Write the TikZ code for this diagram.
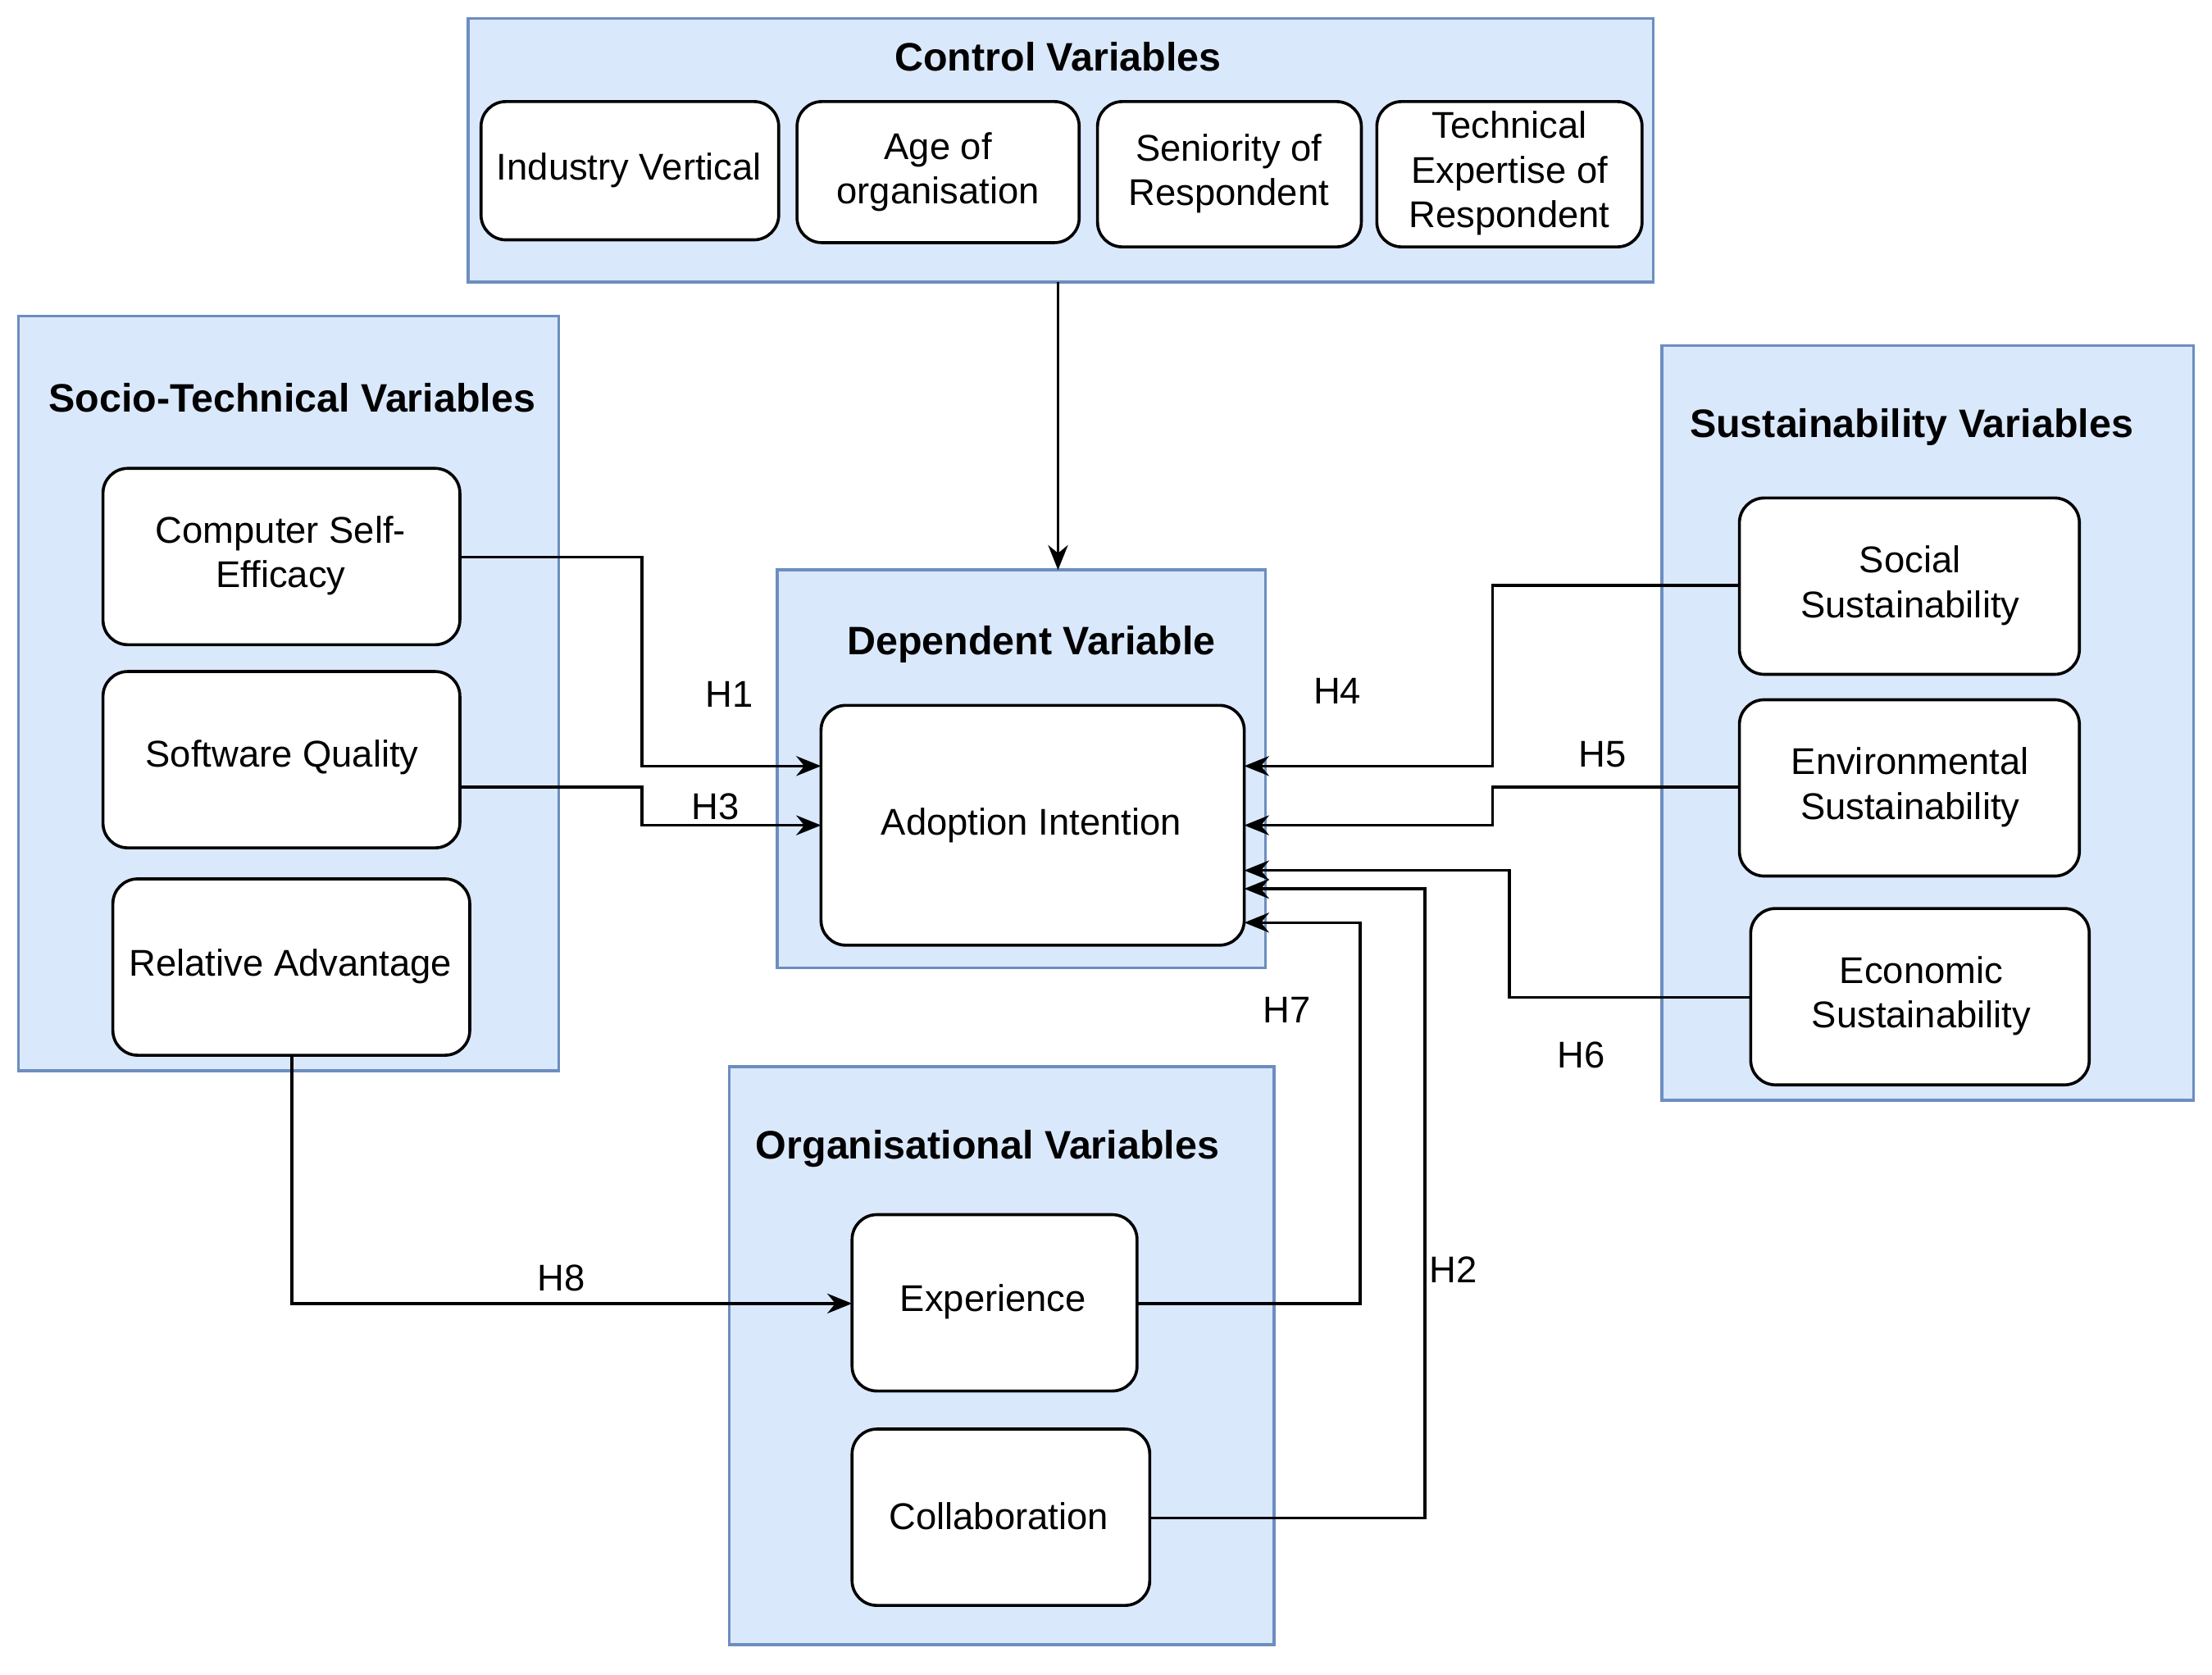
\documentclass[tikz,border=0pt]{standalone}
\usepackage{fontspec}
\setmainfont{Liberation Sans}
\usetikzlibrary{arrows.meta}
\definecolor{grpfill}{RGB}{218,232,252}
\definecolor{grpdraw}{RGB}{108,142,191}
\begin{document}
\begin{tikzpicture}[x=0.01cm,y=-0.01cm,
  grp/.style={draw=grpdraw,fill=grpfill,line width=0.6pt},
  box/.style={draw=black,fill=white,rounded corners=5pt,line width=0.6pt,align=center,font=\fontsize{7.5}{9}\selectfont},
  ttl/.style={font=\bfseries\fontsize{8}{10}\selectfont},
  lbl/.style={font=\fontsize{7.5}{9}\selectfont},
  arr/.style={-{Stealth[length=5pt,width=4pt]},line width=0.6pt}]
\useasboundingbox (0,0) rectangle (1568,1187);
% groups
\draw[grp] (332,13) rectangle (1172,200);
\node[ttl] (tc) at (750,40) {Control Variables};
\draw[grp] (13,224) rectangle (396,759);
\node[ttl] (ts) at (207,282) {Socio-Technical Variables};
\draw[grp] (551,404) rectangle (897,686);
\coordinate (deptop) at (750,404);
\node[ttl] (td) at (731,457) {Dependent Variable};
\draw[grp] (1178,245) rectangle (1555,780);
\node[ttl] (tsu) at (1355,303) {Sustainability Variables};
\draw[grp] (517,756) rectangle (903,1166);
\node[ttl] (to) at (700,814) {Organisational Variables};
% boxes
\path[box] (341,72) rectangle (552,170); \node[box,draw=none,fill=none] (iv) at (446,121) {Industry Vertical};
\path[box] (565,72) rectangle (765,172); \node[box,draw=none,fill=none] (ag) at (665,122) {Age of\\organisation};
\path[box] (778,72) rectangle (965,175); \node[box,draw=none,fill=none] (se) at (871,123) {Seniority of\\Respondent};
\path[box] (976,72) rectangle (1164,175); \node[box,draw=none,fill=none] (te) at (1070,123) {Technical\\Expertise of\\Respondent};
\coordinate (ctrlbot) at (750,200);
\path[box] (73,332) rectangle (326,457); \node[box,draw=none,fill=none] (cse) at (199,394) {Computer Self-\\Efficacy};
\path[box] (73,476) rectangle (326,601); \node[box,draw=none,fill=none] (sq) at (200,537) {Software Quality};
\path[box] (80,623) rectangle (333,748); \node[box,draw=none,fill=none] (ra) at (206,685) {Relative Advantage};
\path[box] (582,500) rectangle (882,670); \node[box,draw=none,fill=none] (ai) at (731,585) {Adoption Intention};
\path[box] (1233,353) rectangle (1474,478); \node[box,draw=none,fill=none] (soc) at (1354,415) {Social\\Sustainability};
\path[box] (1233,496) rectangle (1474,621); \node[box,draw=none,fill=none] (env) at (1354,558) {Environmental\\Sustainability};
\path[box] (1241,644) rectangle (1481,769); \node[box,draw=none,fill=none] (eco) at (1362,706) {Economic\\Sustainability};
\path[box] (604,861) rectangle (806,986); \node[box,draw=none,fill=none] (exp) at (704,923) {Experience};
\path[box] (604,1013) rectangle (815,1138); \node[box,draw=none,fill=none] (col) at (708,1075) {Collaboration};
% arrows
\draw[arr] (ctrlbot) -- (deptop);
\draw[arr] (326,395) -- (455,395) -- (455,543) -- (582,543);
\draw[arr] (326,558) -- (455,558) -- (455,585) -- (582,585);
\draw[arr] (1233,415) -- (1058,415) -- (1058,543) -- (882,543);
\draw[arr] (1233,558) -- (1058,558) -- (1058,585) -- (882,585);
\draw[arr] (1241,707) -- (1070,707) -- (1070,617) -- (882,617);
\draw[arr] (806,924) -- (964,924) -- (964,654) -- (882,654);
\draw[arr] (815,1076) -- (1010,1076) -- (1010,630) -- (882,630);
\draw[arr] (207,748) -- (207,924) -- (604,924);
% labels
\node[lbl] (h1) at (517,492) {H1};
\node[lbl] (h3) at (507,572) {H3};
\node[lbl] (h4) at (948,490) {H4};
\node[lbl] (h5) at (1136,535) {H5};
\node[lbl] (h6) at (1121,748) {H6};
\node[lbl] (h7) at (912,716) {H7};
\node[lbl] (h2) at (1030,900) {H2};
\node[lbl] (h8) at (398,906) {H8};
\end{tikzpicture}
\end{document}
